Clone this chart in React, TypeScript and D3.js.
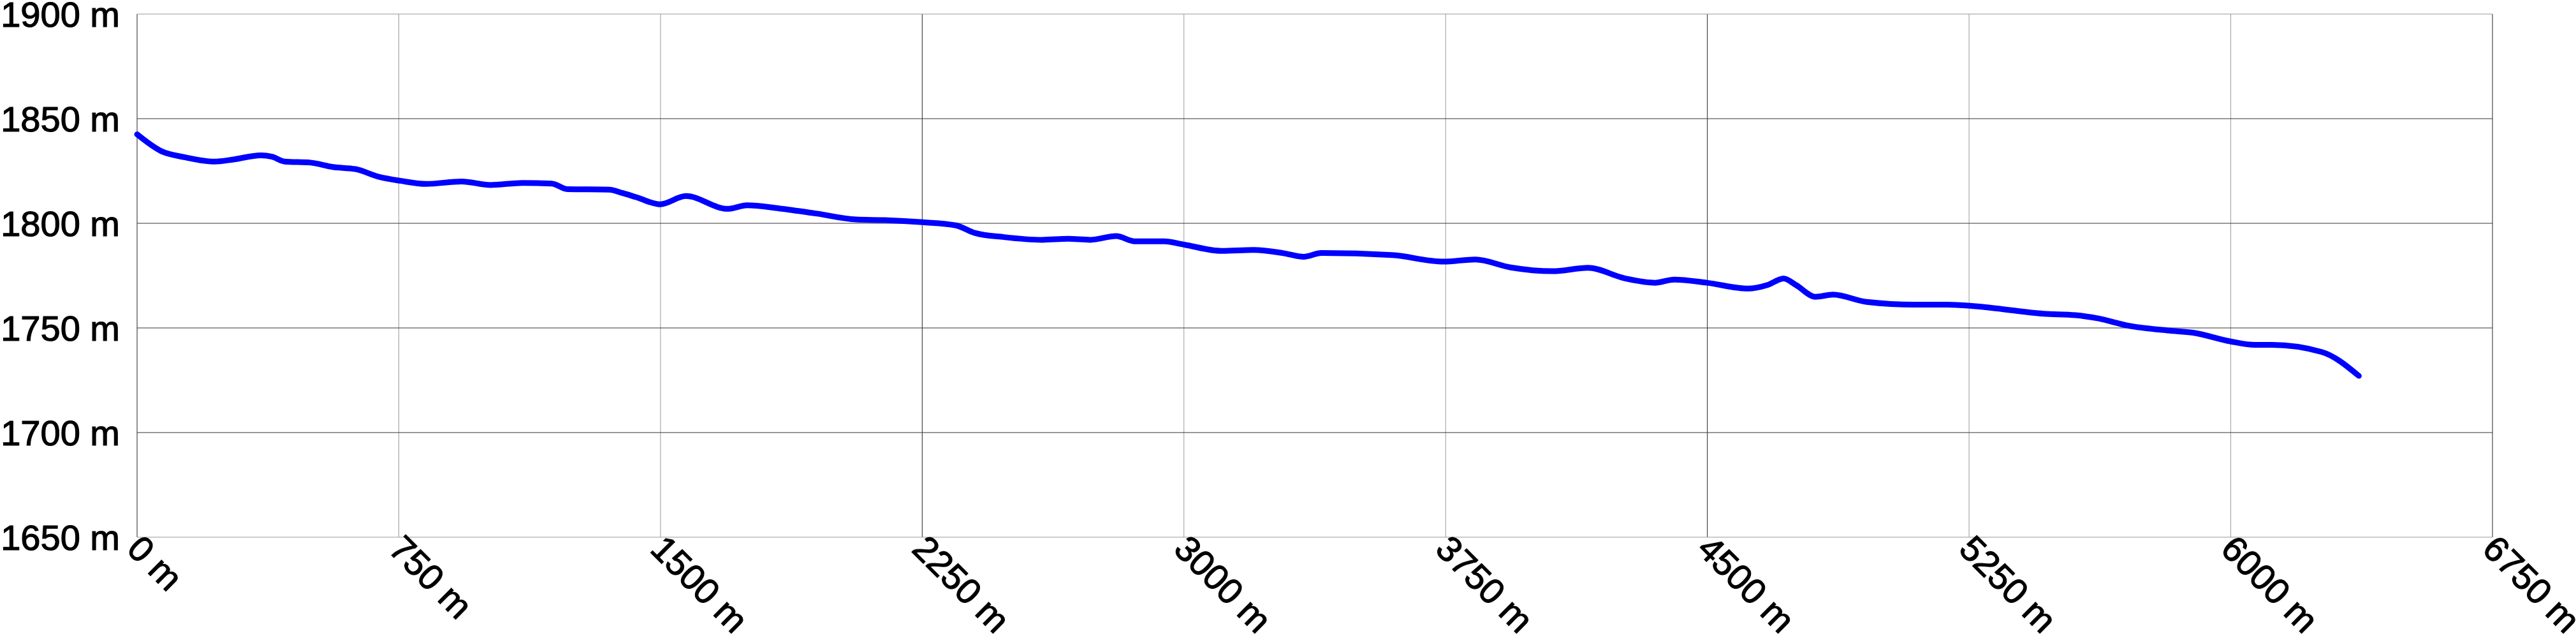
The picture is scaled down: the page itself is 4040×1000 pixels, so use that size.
import React, { useEffect, useRef } from "react";
import * as d3 from "d3";

const width = 4040;
const height = 1000;

// distance along the track (m) and elevation (m)
const distances = [
    0, 69, 138, 221, 276, 354, 387, 423, 497, 561, 626, 691, 755, 829, 930, 1012,
    1105, 1188, 1233, 1353, 1390, 1430, 1499, 1573, 1692, 1748, 1840, 1949, 2061,
    2143, 2251, 2346, 2401, 2484, 2594, 2668, 2732, 2806, 2859, 2943, 3001, 3108,
    3200, 3283, 3343, 3394, 3596, 3744, 3835, 3937, 4056, 4158, 4266, 4350, 4405,
    4498, 4617, 4672, 4718, 4754, 4810, 4860, 4957, 5095, 5187, 5252, 5325, 5463,
    5555, 5618, 5703, 5825, 5892, 5998, 6069, 6117, 6261, 6367
];
const elevations = [
    1842.5, 1834.5, 1831.5, 1829.5, 1830.5, 1832.5, 1831.8, 1829.5, 1829, 1826.9,
    1825.9, 1822.3, 1820.3, 1818.8, 1820, 1818.3, 1819.3, 1819, 1816.3, 1816.1,
    1814.5, 1812.5, 1809.1, 1813, 1806.9, 1808.6, 1807.1, 1804.6, 1801.8, 1801.5,
    1800.5, 1799, 1795.4, 1793.4, 1792.1, 1792.6, 1792.1, 1793.9, 1791.4, 1791.4,
    1789.8, 1786.8, 1787.3, 1785.8, 1784, 1785.8, 1784.8, 1781.7, 1782.7, 1778.9,
    1777.1, 1778.7, 1773.6, 1771.6, 1773.1, 1771.6, 1768.8, 1770.5, 1773.6, 1770.5,
    1764.9, 1765.9, 1762.4, 1761.1, 1761.1, 1760.6, 1759.4, 1756.8, 1756.1, 1754.6,
    1751.2, 1748.7, 1747.7, 1743.6, 1741.9, 1741.9, 1738.5, 1727.1
];

const xTicks = [0, 750, 1500, 2250, 3000, 3750, 4500, 5250, 6000, 6750];
const yTicks = [1650, 1700, 1750, 1800, 1850, 1900];

const margin = { left: 215, right: 131, top: 22, bottom: 158 };
const fontSize = 56;

export default function App() {
    const ref = useRef<SVGSVGElement>(null);

    useEffect(() => {
        const svg = d3.select(ref.current);
        svg.selectAll("*").remove();

        const x = d3.scaleLinear()
            .domain([0, 6750])
            .range([margin.left, width - margin.right]);
        const y = d3.scaleLinear()
            .domain([1650, 1900])
            .range([height - margin.bottom, margin.top]);

        const grid = svg.append("g").attr("stroke-width", 1).attr("fill", "none");

        grid.selectAll("line.v")
            .data(xTicks)
            .join("line")
            .attr("class", "v")
            .attr("x1", d => x(d))
            .attr("x2", d => x(d))
            .attr("y1", y(1900))
            .attr("y2", y(1650))
            .attr("stroke", d => d % 2250 === 0 ? "#222" : "#999");

        grid.selectAll("line.h")
            .data(yTicks)
            .join("line")
            .attr("class", "h")
            .attr("x1", x(0))
            .attr("x2", x(6750))
            .attr("y1", d => y(d))
            .attr("y2", d => y(d))
            .attr("stroke", d => (d === 1900 || d === 1650) ? "#999" : "#333");

        svg.append("g")
            .attr("font-family", "'Liberation Sans', Arial, sans-serif")
            .attr("font-size", fontSize)
            .attr("stroke", "#000")
            .attr("stroke-width", 1.2)
            .selectAll("text")
            .data(yTicks)
            .join("text")
            .attr("x", x(0) - 27)
            .attr("y", d => y(d))
            .attr("dy", "0.36em")
            .attr("text-anchor", "end")
            .attr("fill", "#000")
            .text(d => `${d} m`);

        // rotated distance labels hanging below the axis
        svg.append("g")
            .attr("font-family", "'Liberation Sans', Arial, sans-serif")
            .attr("font-size", fontSize)
            .attr("stroke", "#000")
            .attr("stroke-width", 1.2)
            .selectAll("text")
            .data(xTicks)
            .join("text")
            .attr("transform", d => `translate(${x(d)},${y(1650)}) rotate(45)`)
            .attr("x", 2)
            .attr("y", 28)
            .attr("fill", "#000")
            .text(d => `${d} m`);

        const points = distances.map((d, i) => [d, elevations[i]] as [number, number]);
        const line = d3.line<[number, number]>()
            .x(d => x(d[0]))
            .y(d => y(d[1]))
            .curve(d3.curveMonotoneX);

        svg.append("path")
            .datum(points)
            .attr("d", line)
            .attr("fill", "none")
            .attr("stroke", "#0000ff")
            .attr("stroke-width", 9)
            .attr("stroke-linejoin", "round")
            .attr("stroke-linecap", "round");
    }, []);

    return (
        <svg ref={ref} width={width} height={height}
            style={{ position: "absolute", left: 0, top: 0, background: "#fff" }} />
    );
}
